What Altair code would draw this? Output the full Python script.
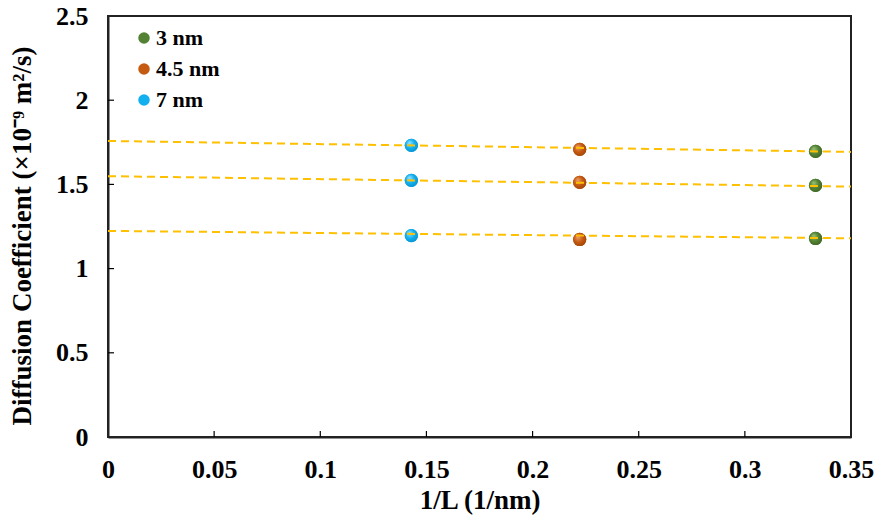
import altair as alt
import pandas as pd

# ---- data ----
sizes = ["3 nm", "4.5 nm", "7 nm"]
inv_L = [0.3333, 0.2222, 0.1429]          # 1/L (1/nm) for each size
D_top = [1.696, 1.708, 1.732]
D_mid = [1.494, 1.512, 1.524]
D_bot = [1.179, 1.173, 1.196]
sets = ["top", "mid", "bot"]
colors = ["#548235", "#C55A11", "#12B0EE"]
highlights = ["#9CC47A", "#F0A070", "#9FE4FF"]
shadows = ["#3E6626", "#A04508", "#0990D0"]

# dashed trend lines: values at x = 0 and x = 0.35
trend_x = [0.0, 0.35]
trend_top = [1.758, 1.693]
trend_mid = [1.549, 1.487]
trend_bot = [1.224, 1.180]

x_ticks = [0.05, 0.1, 0.15, 0.2, 0.25, 0.3]
y_ticks = [0.5, 1, 1.5, 2]

rows = []
for s, vals in zip(sets, [D_top, D_mid, D_bot]):
    for size, x, y in zip(sizes, inv_L, vals):
        rows.append({"set": s, "size": size, "x": x, "D": y})
df = pd.DataFrame(rows)

trows = []
for s, vals in zip(sets, [trend_top, trend_mid, trend_bot]):
    for x, y in zip(trend_x, vals):
        trows.append({"set": s, "x": x, "D": y})
tdf = pd.DataFrame(trows)

W, H = 743, 421
FONT = "Liberation Serif"
PSIZE = 175

xscale = alt.Scale(domain=[0, 0.35], nice=False, zero=False)
yscale = alt.Scale(domain=[0, 2.5], nice=False)

points = alt.Chart(df).mark_circle(size=PSIZE, opacity=1).encode(
    x=alt.X("x:Q", scale=xscale,
            axis=alt.Axis(title="1/L (1/nm)", values=[0, 0.05, 0.1, 0.15, 0.2, 0.25, 0.3, 0.35],
                          format="~g", ticks=False, grid=False, labelPadding=19,
                          labelFlush=False, titleY=63, titleBaseline="middle")),
    y=alt.Y("D:Q", scale=yscale,
            axis=alt.Axis(title="Diffusion Coefficient (×10⁻⁹ m²/s)", values=[0, 0.5, 1, 1.5, 2, 2.5],
                          format="~g", ticks=False, grid=False, labelPadding=20,
                          labelFlush=False, titleX=-86, titleY=H / 2 + 9, titleBaseline="middle")),
    color=alt.Color("size:N", scale=alt.Scale(domain=sizes, range=colors),
                    legend=alt.Legend(title=None, orient="none", legendX=25, legendY=11,
                                      symbolType="circle", symbolSize=133,
                                      rowPadding=9, labelOffset=1, padding=0)),
)

shaded = []
for size, hi, mid, lo in zip(sizes, highlights, colors, shadows):
    grad = alt.RadialGradient(
        gradient="radial",
        stops=[alt.GradientStop(offset=0, color=hi),
               alt.GradientStop(offset=0.55, color=mid),
               alt.GradientStop(offset=1, color=lo)],
        x1=0.35, y1=0.3, r1=0, x2=0.45, y2=0.45, r2=0.6,
    )
    shaded.append(
        alt.Chart(df).transform_filter(alt.datum.size == size)
        .mark_circle(size=PSIZE, opacity=1, fill=grad)
        .encode(x=alt.X("x:Q", scale=xscale), y=alt.Y("D:Q", scale=yscale))
    )

lines = alt.Chart(tdf).mark_line(color="#FFC000", strokeWidth=2, strokeDash=[8, 5]).encode(
    x=alt.X("x:Q", scale=xscale),
    y=alt.Y("D:Q", scale=yscale),
    detail="set:N",
)

xt = alt.Chart(pd.DataFrame({"t": x_ticks})).mark_rule(color="black", strokeWidth=1.2).encode(
    x=alt.X("t:Q", scale=xscale), y=alt.value(H), y2=alt.value(H - 6)
)
yt = alt.Chart(pd.DataFrame({"t": y_ticks})).mark_rule(color="black", strokeWidth=1.2).encode(
    y=alt.Y("t:Q", scale=yscale), x=alt.value(0), x2=alt.value(6)
)

chart = alt.layer(points, *shaded, lines, xt, yt).properties(
    width=W, height=H,
    background="white",
    autosize=alt.AutoSizeParams(type="none"),
    padding={"left": 108, "top": 16, "right": 28, "bottom": 86},
).configure_view(
    stroke="#222222", strokeWidth=2
).configure_axis(
    labelFont=FONT, labelFontSize=26, labelFontWeight="bold", labelColor="black",
    titleFont=FONT, titleFontSize=27, titleFontWeight="bold", titleColor="black",
    domainColor="#222222", domainWidth=2,
).configure_legend(
    labelFont=FONT, labelFontSize=22, labelFontWeight="bold", labelColor="black",
)

chart.save("out.html", embed_options={"renderer": "svg", "actions": False})
